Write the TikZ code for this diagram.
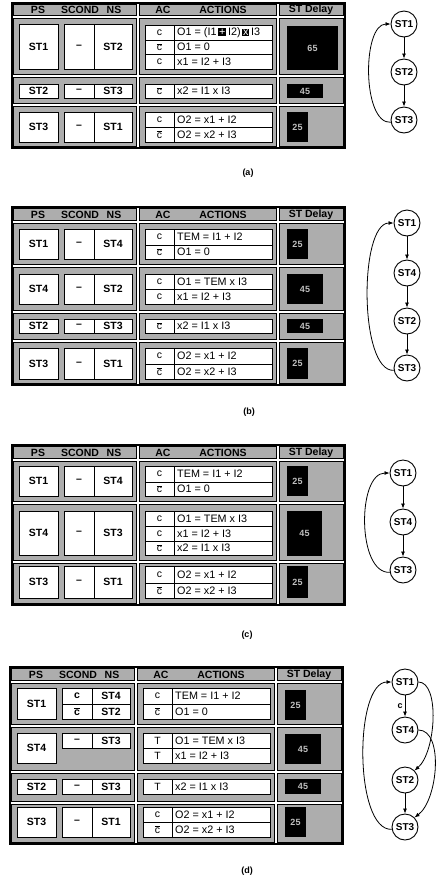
\documentclass[tikz,border=0pt]{standalone}
\usepackage{fontspec}
\setmainfont{Liberation Sans}
\usetikzlibrary{arrows.meta,calc}
\tikzset{
 cellbg/.style={fill=black!32, draw=black, line width=0.7pt},
 tframe/.style={draw=black, line width=1.6pt},
 wbox/.style={fill=white, draw=black, line width=0.9pt},
 wline/.style={draw=black, line width=0.9pt},
 stt/.style={font=\fontsize{10.5}{11}\selectfont\bfseries, inner sep=0pt},
 cdt/.style={font=\fontsize{10.5}{11}\selectfont, inner sep=0pt},
 actt/.style={font=\fontsize{10.8}{11}\selectfont, inner sep=0pt, anchor=west},
 hdr/.style={font=\fontsize{10.5}{11}\selectfont\bfseries, inner sep=0pt},
 dly/.style={fill=black},
 dlyt/.style={font=\fontsize{9}{10}\selectfont\bfseries, text=black!25, inner sep=0pt},
 gnode/.style={circle, draw, line width=0.9pt, fill=white, minimum size=26pt, inner sep=0pt, font=\fontsize{10}{11}\selectfont\bfseries},
 garr/.style={-{Latex[length=5pt,width=4pt]}, line width=0.8pt},
 subcap/.style={font=\fontsize{9}{10}\selectfont\bfseries, inner sep=0pt}
}
\newcommand\ncbar{\ensuremath{\overline{\mbox{c}}}}
\newcommand\blk[1]{{\setlength\fboxsep{0.8pt}\colorbox{black}{\textcolor{white}{#1}}}}
\newcommand\gc[4]{\draw[cellbg] ({#1+1.6},{#2+1.6}) rectangle ({#3-1.6},{#4-1.6});}
\newcommand\rowc[2]{\gc{12}{#1}{138}{#2}\gc{138}{#1}{278}{#2}\gc{278}{#1}{345}{#2}}
\newcommand\hdrs[2]{%
 \node[hdr] (#1hps) at (38,#2) {PS};
 \node[hdr] (#1hsc) at (80,#2) {SCOND};
 \node[hdr] (#1hns) at (114,#2) {NS};
 \node[hdr] (#1hac) at (163,#2) {AC};
 \node[hdr] (#1hact) at (223,#2) {ACTIONS};
 \node[hdr] (#1hd) at (311,#2) {ST Delay};}
\newcommand\psb[4]{\draw[wbox] (19,#2) rectangle (58,#3); \node[stt] (#1) at (38.5,{(#2+#3)/2}) {#4};}
\newcommand\snb[5]{\draw[wbox] (64,#2) rectangle (132,#3); \draw[wline] (94,#2) -- (94,#3);
 \node[stt] (#1c) at (79,{(#2+#3)/2}) {#4}; \node[stt] (#1n) at (113,{(#2+#3)/2}) {#5};}
\newcommand\acr[5]{\draw[wbox] (145,#2) rectangle (272,#3); \draw[wline] (174,#2) -- (174,#3);
 \node[cdt] (#1c) at (159.5,{(#2+#3)/2}) {#4}; \node[actt] (#1t) at (177,{(#2+#3)/2}) {#5};}
\newcommand\dlb[5]{\fill[dly] (287,#2) rectangle (#4,#3); \node[dlyt] (#1) at ({(287+#4)/2},{(#2+#3)/2}) {#5};}
\begin{document}
\begin{tikzpicture}[x=1pt,y=-1pt]
\useasboundingbox (0,0) rectangle (436,879);
% ---------------- table (a)
\rowc{3}{17}\rowc{17}{76}\rowc{76}{105}\rowc{105}{148}
\draw[tframe] (12,3) rectangle (345,148);
\hdrs{a}{10}
\psb{aps1}{24}{69}{ST1} \snb{asn1}{24}{69}{--}{ST2}
\acr{aac1}{25}{40}{c}{O1 = (I1\,\blk{+}\,I2)\,\blk{x}\,I3}
\acr{aac2}{40}{54}{\ncbar}{O1 = 0}
\acr{aac3}{54}{69}{c}{x1 = I2 + I3}
\dlb{adl1}{26}{70}{338}{65}
\psb{aps2}{84}{98}{ST2} \snb{asn2}{84}{98}{--}{ST3}
\acr{aac4}{84}{98}{\ncbar}{x2 = I1 x I3}
\dlb{adl2}{84}{98}{323}{45}
\psb{aps3}{112}{142}{ST3} \snb{asn3}{112}{142}{--}{ST1}
\acr{aac5}{112}{127}{c}{O2 = x1 + I2}
\acr{aac6}{127}{142}{\ncbar}{O2 = x2 + I3}
\dlb{adl3}{112}{142}{308}{25}
\node[subcap] (capa) at (248,173) {(a)};
% graph (a)
\node[gnode] (a1) at (404,24) {ST1};
\node[gnode] (a2) at (404,72) {ST2};
\node[gnode] (a3) at (404,120) {ST3};
\draw[garr] (a1) -- (a2);
\draw[garr] (a2) -- (a3);
\draw[garr] (a3.190) .. controls (362,124) and (362,24) .. (a1.west);
% ---------------- table (b)
\rowc{207}{222}\rowc{222}{266}\rowc{266}{312}\rowc{312}{341}\rowc{341}{385}
\draw[tframe] (12,207) rectangle (345,385);
\hdrs{b}{214.5}
\psb{bps1}{229}{259}{ST1} \snb{bsn1}{229}{259}{--}{ST4}
\acr{bac1}{229}{245}{c}{TEM = I1 + I2}
\acr{bac2}{245}{259}{\ncbar}{O1 = 0}
\dlb{bdl1}{229}{259}{308}{25}
\psb{bps2}{274}{304}{ST4} \snb{bsn2}{274}{304}{--}{ST2}
\acr{bac3}{274}{289}{c}{O1 = TEM x I3}
\acr{bac4}{289}{304}{c}{x1 = I2 + I3}
\dlb{bdl2}{274}{304}{323}{45}
\psb{bps3}{319}{333}{ST2} \snb{bsn3}{319}{333}{--}{ST3}
\acr{bac5}{319}{333}{\ncbar}{x2 = I1 x I3}
\dlb{bdl3}{319}{333}{323}{45}
\psb{bps4}{348}{379}{ST3} \snb{bsn4}{348}{379}{--}{ST1}
\acr{bac6}{348}{364}{c}{O2 = x1 + I2}
\acr{bac7}{364}{379}{\ncbar}{O2 = x2 + I3}
\dlb{bdl4}{348}{379}{308}{25}
\node[subcap] (capb) at (249,412) {(b)};
% graph (b)
\node[gnode] (b1) at (407,223) {ST1};
\node[gnode] (b4) at (407,273) {ST4};
\node[gnode] (b2) at (407,321) {ST2};
\node[gnode] (b3) at (407,368) {ST3};
\draw[garr] (b1) -- (b4);
\draw[garr] (b4) -- (b2);
\draw[garr] (b2) -- (b3);
\draw[garr] (b3.190) .. controls (359,372) and (359,223) .. (b1.west);
% ---------------- table (c)
\rowc{445}{460}\rowc{460}{503}\rowc{503}{562}\rowc{562}{605}
\draw[tframe] (12,445) rectangle (345,605);
\hdrs{c}{452.5}
\psb{cps1}{466}{496}{ST1} \snb{csn1}{466}{496}{--}{ST4}
\acr{cac1}{466}{482}{c}{TEM = I1 + I2}
\acr{cac2}{482}{496}{\ncbar}{O1 = 0}
\dlb{cdl1}{466}{496}{308}{25}
\psb{cps2}{511}{555}{ST4} \snb{csn2}{511}{555}{--}{ST3}
\acr{cac3}{511}{526}{c}{O1 = TEM x I3}
\acr{cac4}{526}{541}{c}{x1 = I2 + I3}
\acr{cac5}{541}{555}{\ncbar}{x2 = I1 x I3}
\dlb{cdl2}{511}{556}{322}{45}
\psb{cps3}{566}{598}{ST3} \snb{csn3}{566}{598}{--}{ST1}
\acr{cac6}{566}{583}{c}{O2 = x1 + I2}
\acr{cac7}{583}{598}{\ncbar}{O2 = x2 + I3}
\dlb{cdl3}{566}{598}{308}{25}
\node[subcap] (capc) at (247,635) {(c)};
% graph (c)
\node[gnode] (c1) at (403,473) {ST1};
\node[gnode] (c4) at (403,522) {ST4};
\node[gnode] (c3) at (403,570) {ST3};
\draw[garr] (c1) -- (c4);
\draw[garr] (c4) -- (c3);
\draw[garr] (c3.190) .. controls (357,574) and (357,473) .. (c1.west);
% ---------------- table (d)
\begin{scope}[xshift=-2pt]
\rowc{667}{682}\rowc{682}{726}\rowc{726}{772}\rowc{772}{803}\rowc{803}{844}
\draw[tframe] (12,667) rectangle (345,844);
\hdrs{d}{674.5}
\psb{dps1}{688}{719}{ST1}
\snb{dsn1}{688}{704}{c}{ST4}
\snb{dsn2}{704}{719}{\ncbar}{ST2}
\acr{dac1}{688}{704}{c}{TEM = I1 + I2}
\acr{dac2}{704}{719}{\ncbar}{O1 = 0}
\dlb{ddl1}{690}{720}{308}{25}
\psb{dps2}{733}{763}{ST4} \snb{dsn3}{733}{748}{--}{ST3}
\acr{dac3}{733}{748}{T}{O1 = TEM x I3}
\acr{dac4}{748}{763}{T}{x1 = I2 + I3}
\dlb{ddl2}{734}{764}{323}{45}
\psb{dps3}{779}{794}{ST2} \snb{dsn4}{779}{794}{--}{ST3}
\acr{dac5}{779}{794}{T}{x2 = I1 x I3}
\dlb{ddl3}{779}{794}{323}{45}
\psb{dps4}{807}{837}{ST3} \snb{dsn5}{807}{837}{--}{ST1}
\acr{dac6}{807}{822}{c}{O2 = x1 + I2}
\acr{dac7}{822}{837}{\ncbar}{O2 = x2 + I3}
\dlb{ddl4}{807}{837}{308}{25}
\end{scope}
\node[subcap] (capd) at (247,871) {(d)};
% graph (d)
\node[gnode] (d1) at (405,682) {ST1};
\node[gnode] (d4) at (405,730) {ST4};
\node[gnode] (d2) at (405,780) {ST2};
\node[gnode] (d3) at (405,827) {ST3};
\draw[garr] (d1) -- node[left=2pt, subcap] (dlc) {c} (d4);
\draw[garr] (d2) -- (d3);
\draw[garr] (d3.190) .. controls (354,831) and (354,682) .. (d1.west);
\draw[garr] (d1.east) .. controls (440,682) and (436,752) .. (d2.45);
\draw[garr] (d4.east) .. controls (444,730) and (438,800) .. (d3.45);
\end{tikzpicture}
\end{document}
